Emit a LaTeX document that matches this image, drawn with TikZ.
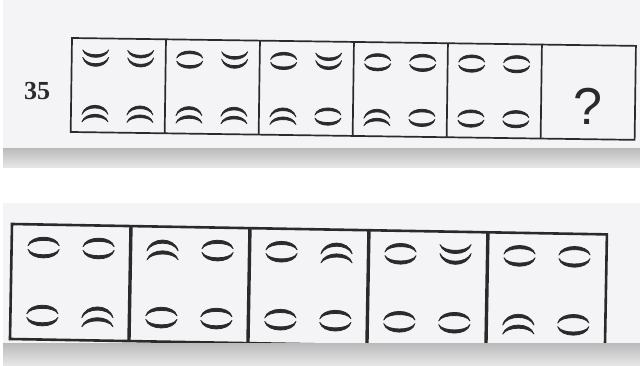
\documentclass[tikz,border=0pt]{standalone}
\usepackage{fontspec}
\newfontfamily\numfont{Liberation Serif}
\newfontfamily\qfont{Liberation Sans}
\definecolor{ink}{RGB}{42,42,42}
\definecolor{paper}{RGB}{244,244,246}

\begin{document}
\begin{tikzpicture}
    [x=1pt, y=-1pt,
    stroke/.style={draw=ink, fill=ink, line width=0.8pt, line join=round},
    eye/.pic={\path[stroke] (-13,-1.5) .. controls (-11,-11) and (11,-11) .. (13,-1.5)
                  .. controls (10,-7.5) and (-10,-7.5) .. cycle;
              \path[stroke] (-13,1.5) .. controls (-11,11) and (11,11) .. (13,1.5)
                  .. controls (10,7.5) and (-10,7.5) .. cycle;},
    cups/.pic={\path[stroke] (-13,-8.5) .. controls (-10,1.5) and (10,1.5) .. (13,-8.5)
                   .. controls (9,-2) and (-9,-2) .. cycle;
               \path[stroke] (-13,-1) .. controls (-10,11) and (10,11) .. (13,-1)
                   .. controls (9,7.5) and (-9,7.5) .. cycle;},
    hats/.pic={\path[stroke] (-13,8.5) .. controls (-10,-1.5) and (10,-1.5) .. (13,8.5)
                   .. controls (9,2) and (-9,2) .. cycle;
               \path[stroke] (-13,1) .. controls (-10,-11) and (10,-11) .. (13,1)
                   .. controls (9,-7.5) and (-9,-7.5) .. cycle;},
    frame/.style={draw=ink, line width=1.7pt},
    wall/.style={draw=ink, line width=3.4pt},
    band/.style={top color=black!27, bottom color=black!10}]
        \useasboundingbox (0,0) rectangle (640,365);
        \fill[white] (0,0) rectangle (640,365);
        \fill[paper] (3,0) rectangle (640,148);
        \fill[paper] (3,203) rectangle (640,343);

        % question 35
        \node[text=ink, font=\numfont\bfseries\fontsize{26}{26}\selectfont] (num) at (37,91) {35};
        \begin{scope}[rotate around={-0.8:(72,38)}, shift={(72,38)}]
        \draw[frame] (0,0) rectangle (564,94);
        \foreach \k in {1,...,5}
            \draw[frame] (\k*94,0) -- (\k*94,94);
        \foreach \k/\a/\b/\c/\d in {0/cups/cups/hats/hats, 1/eye/cups/hats/hats,
                2/eye/cups/hats/eye, 3/eye/eye/hats/eye, 4/eye/eye/eye/eye}{
            \pic at (\k*94+24,20) {\a};
            \pic at (\k*94+69,20) {\b};
            \pic at (\k*94+24,75) {\c};
            \pic at (\k*94+69,75) {\d};
        }
        \node[text=ink, font=\qfont\fontsize{52}{52}\selectfont] (query) at (517,61) {?};
        \end{scope}
        \fill[band] (3,148) rectangle (640,167);

        % answer figures
        \begin{scope}[rotate around={-1:(12,224)}, shift={(12,224)}]
        \draw[frame, line width=2.6pt] (0,0) rectangle (595,115);
        \foreach \k in {1,...,4}
            \draw[wall] (\k*119,0) -- (\k*119,115);
        \foreach \k/\a/\b/\c/\d in {0/eye/eye/eye/hats, 1/hats/eye/eye/eye,
                2/eye/hats/eye/eye, 3/eye/cups/eye/eye, 4/eye/eye/hats/eye}{
            \pic[scale=1.2] at (\k*119+32,23) {\a};
            \pic[scale=1.2] at (\k*119+87,23) {\b};
            \pic[scale=1.2] at (\k*119+32,91) {\c};
            \pic[scale=1.2] at (\k*119+87,91) {\d};
        }
        \end{scope}
        \fill[band] (3,343) rectangle (640,365);
\end{tikzpicture}
\end{document}
